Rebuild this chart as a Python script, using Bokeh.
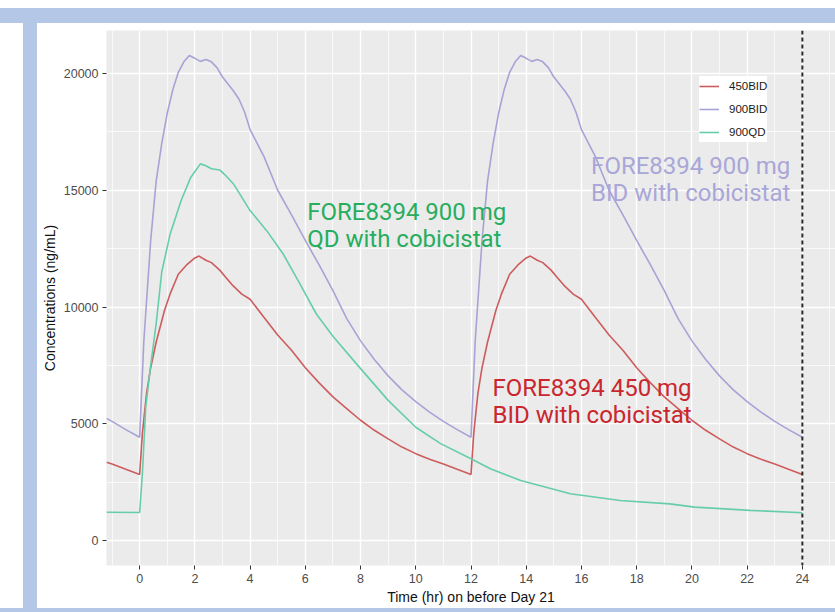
from bokeh.plotting import figure
from bokeh.models import FixedTicker, Legend, LegendItem, Label, Span, Spacer
from bokeh.layouts import column, row
from bokeh.embed import file_html
from bokeh.resources import INLINE

# ---------------- data ----------------
time_450bid = [-1.2, -1.0, -0.5,
               0.0, 0.1, 0.25, 0.4, 0.6, 0.9, 1.1, 1.4, 1.7, 2.0, 2.15, 2.4, 2.6, 2.9, 3.1, 3.35, 3.7, 4.0,
               4.5, 5.0, 5.5, 6.0, 6.5, 7.0, 7.5, 8.0, 8.5, 9.0, 9.5, 10.0, 10.5, 11.0, 11.5,
               12.0, 12.1, 12.25, 12.4, 12.6, 12.9, 13.1, 13.4, 13.7, 14.0, 14.15, 14.4, 14.6, 14.9, 15.1, 15.35, 15.7, 16.0,
               16.5, 17.0, 17.5, 18.0, 18.5, 19.0, 19.5, 20.0, 20.5, 21.0, 21.5, 22.0, 22.5, 23.0, 23.5, 24.0]
conc_450bid = [3350, 3280, 3050,
               2830, 4600, 6300, 7400, 8500, 9850, 10550, 11400, 11800, 12100, 12180, 12000, 11900, 11580, 11300, 10950, 10550, 10330,
               9560, 8800, 8150, 7400, 6750, 6150, 5650, 5150, 4720, 4350, 4000, 3720, 3480, 3280, 3050,
               2830, 4600, 6300, 7400, 8500, 9850, 10550, 11400, 11800, 12100, 12180, 12000, 11900, 11580, 11300, 10950, 10550, 10330,
               9560, 8800, 8150, 7400, 6750, 6150, 5650, 5150, 4720, 4350, 4000, 3720, 3480, 3280, 3050, 2830]

time_900bid = [-1.2, -1.0, -0.5,
               0.0, 0.15, 0.4, 0.6, 0.8, 1.0, 1.2, 1.4, 1.6, 1.8, 2.0, 2.2, 2.4, 2.6, 2.8, 3.0, 3.2, 3.4, 3.6, 3.8, 4.0,
               4.5, 5.0, 5.5, 6.0, 6.5, 7.0, 7.5, 8.0, 8.5, 9.0, 9.5, 10.0, 10.5, 11.0, 11.5,
               12.0, 12.15, 12.4, 12.6, 12.8, 13.0, 13.2, 13.4, 13.6, 13.8, 14.0, 14.2, 14.4, 14.6, 14.8, 15.0, 15.2, 15.4, 15.6, 15.8, 16.0,
               16.5, 17.0, 17.5, 18.0, 18.5, 19.0, 19.5, 20.0, 20.5, 21.0, 21.5, 22.0, 22.5, 23.0, 23.5, 24.0]
conc_900bid = [5230, 5100, 4750,
               4420, 8500, 12850, 15400, 17000, 18300, 19300, 20050, 20500, 20770, 20650, 20520, 20600, 20500, 20250, 19850, 19550, 19250, 18900, 18350, 17600,
               16450, 15000, 13950, 12850, 11800, 10700, 9500, 8550, 7750, 7050, 6450, 5950, 5500, 5100, 4750,
               4420, 8500, 12850, 15400, 17000, 18300, 19300, 20050, 20500, 20770, 20650, 20520, 20600, 20500, 20250, 19850, 19550, 19250, 18900, 18350, 17600,
               16450, 15000, 13950, 12850, 11800, 10700, 9500, 8550, 7750, 7050, 6450, 5950, 5500, 5100, 4750, 4420]

time_900qd = [-1.2, 0.0, 0.1, 0.22, 0.4, 0.6, 0.8, 1.1, 1.5, 1.85, 2.2, 2.4, 2.6, 2.9, 3.1, 3.4, 4.0, 4.6, 5.2, 5.8,
              6.4, 7.0, 7.9, 9.0, 10.0, 10.9, 12.0, 12.7, 13.8, 15.6, 17.4, 19.2, 20.1, 22.1, 24.0]
conc_900qd = [1210, 1200, 2860, 5700, 7500, 9300, 11500, 13100, 14550, 15550, 16130, 16050, 15920, 15870, 15650, 15270, 14130, 13270, 12270, 11000,
              9700, 8750, 7500, 6000, 4850, 4150, 3500, 3070, 2570, 2000, 1710, 1570, 1430, 1290, 1190]

series_labels = ["450BID", "900BID", "900QD"]
x_tick_values = [0, 2, 4, 6, 8, 10, 12, 14, 16, 18, 20, 22, 24]
x_minor_values = [-1, 1, 3, 5, 7, 9, 11, 13, 15, 17, 19, 21, 23, 25]
y_tick_values = [0, 5000, 10000, 15000, 20000]
y_tick_labels = ["0", "5000", "10000", "15000", "20000"]
y_minor_values = [2500, 7500, 12500, 17500]
end_of_interval = 24

annotations = [
    ("FORE8394  900 mg", "QD with cobicistat", 6.07, 14060, 12925, "#27ad5e"),
    ("FORE8394 450 mg", "BID with cobicistat", 12.78, 6522, 5387, "#c9262d"),
    ("FORE8394 900 mg", "BID with cobicistat", 16.35, 16025, 14890, "#a9a6d8"),
]

# ---------------- styling ----------------
RED = "#CD5C5C"
PURPLE = "#a7a3d6"
GREEN = "#66CDAA"
FRAME_BLUE = "#b4c7e7"
AXIS_FONT = "Liberation Sans"

p = figure(width=798, height=585, x_range=(-1.2, 25.2), y_range=(-1071, 21842),
           output_backend="svg", toolbar_location=None,
           min_border_left=69, min_border_right=0, min_border_top=7, min_border_bottom=43,
           background_fill_color="#EBEBEB", border_fill_color="white", outline_line_color=None)

r1 = p.line(time_450bid, conc_450bid, line_color=RED, line_width=1.6)
r2 = p.line(time_900bid, conc_900bid, line_color=PURPLE, line_width=1.6)
r3 = p.line(time_900qd, conc_900qd, line_color=GREEN, line_width=1.6)

p.add_layout(Span(location=end_of_interval, dimension="height", line_color="#2a2a2a",
                  line_dash="4 3", line_width=2))

p.xaxis.ticker = FixedTicker(ticks=x_tick_values, minor_ticks=x_minor_values)
p.yaxis.ticker = FixedTicker(ticks=y_tick_values, minor_ticks=y_minor_values)
p.yaxis.major_label_overrides = {v: s for v, s in zip(y_tick_values, y_tick_labels)}

p.xaxis.axis_label = "Time (hr) on before Day 21"
p.yaxis.axis_label = "Concentrations (ng/mL)"
for ax in (p.xaxis, p.yaxis):
    ax.axis_line_color = None
    ax.major_tick_line_color = "#333333"
    ax.major_tick_in = 0
    ax.major_tick_out = 4
    ax.minor_tick_line_color = None
    ax.major_label_text_font = AXIS_FONT
    ax.major_label_text_font_size = "12.5px"
    ax.major_label_text_color = "#4D4D4D"
    ax.major_label_standoff = 4
    ax.axis_label_text_font = AXIS_FONT
    ax.axis_label_text_font_size = "14px"
    ax.axis_label_text_font_style = "normal"
    ax.axis_label_text_color = "#111111"
    ax.axis_label_standoff = 3

for g in (p.xgrid, p.ygrid):
    g.grid_line_color = "white"
    g.grid_line_width = 1.4
    g.minor_grid_line_color = "white"
    g.minor_grid_line_width = 0.7

legend = Legend(items=[LegendItem(label=series_labels[0], renderers=[r1]),
                       LegendItem(label=series_labels[1], renderers=[r2]),
                       LegendItem(label=series_labels[2], renderers=[r3])],
                location=(593, 423), background_fill_color="white", background_fill_alpha=1,
                border_line_color=None, label_text_font=AXIS_FONT, label_text_font_size="11.5px",
                label_text_color="#1a1a1a", glyph_width=20, glyph_height=20, label_standoff=10,
                padding=10, spacing=3, margin=0)
p.add_layout(legend)

for line1, line2, x, y1, y2, col in annotations:
    for txt, yy in ((line1, y1), (line2, y2)):
        p.add_layout(Label(x=x, y=yy, text=txt, text_font="Roboto", text_font_size="24px",
                           text_color=col, text_baseline="alphabetic", text_align="left"))

layout = column(
    Spacer(width=835, height=8),
    Spacer(width=835, height=15, styles={"background-color": FRAME_BLUE}),
    row(Spacer(width=23, height=585),
        Spacer(width=14, height=585, styles={"background-color": FRAME_BLUE}),
        p, spacing=0),
    Spacer(width=835, height=4, styles={"background-color": FRAME_BLUE}),
    spacing=0,
)

open("out.html", "w").write(file_html(layout, INLINE))
